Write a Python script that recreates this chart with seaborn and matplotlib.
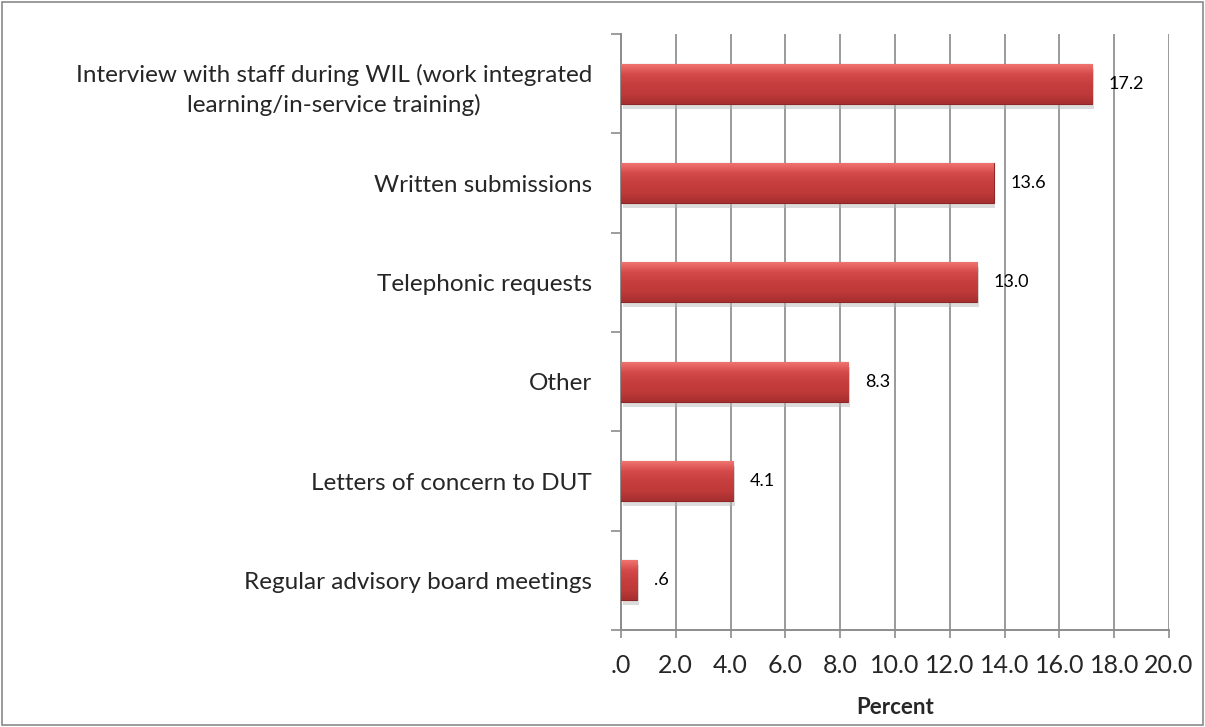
import matplotlib
matplotlib.use("Agg")
import matplotlib.pyplot as plt
from matplotlib.patches import Rectangle
import numpy as np
import pandas as pd
import seaborn as sns

categories = [
    "Interview with staff during WIL (work integrated\nlearning/in-service training)",
    "Written submissions",
    "Telephonic requests",
    "Other",
    "Letters of concern to DUT",
    "Regular advisory board meetings",
]
values = [17.2, 13.6, 13.0, 8.3, 4.1, 0.6]
x_ticks = [0, 2, 4, 6, 8, 10, 12, 14, 16, 18, 20]


def fmt(v):
    s = f"{v:.1f}"
    return s[1:] if s.startswith("0") else s


df = pd.DataFrame({"category": categories, "percent": values})

sns.set_style("white")
plt.rcParams["font.family"] = ["Lato", "DejaVu Sans"]

fig = plt.figure(figsize=(12.05, 7.27), dpi=100)
ax = fig.add_axes([621 / 1205, 1 - 630 / 727, 548 / 1205, 596 / 727])

sns.barplot(data=df, x="percent", y="category", orient="h", width=0.4,
            color="#C43B3A", saturation=1, ax=ax, zorder=3)

# gradient fill to mimic the bevelled bars
grad = np.linspace(0, 1, 64).reshape(-1, 1)
cmap = matplotlib.colors.LinearSegmentedColormap.from_list(
    "bar", ["#F07370", "#D44A4A", "#C63E3D", "#C03A3A", "#A62F2F"])
for p in ax.patches:
    x0, y0 = p.get_x(), p.get_y()
    w, h = p.get_width(), p.get_height()
    # drop shadow
    ax.add_patch(Rectangle((x0 + 0.06, y0 + 0.05), w, h, color="#bbbbbb",
                           alpha=0.5, zorder=2, lw=0))
    im = ax.imshow(grad, cmap=cmap, aspect="auto", zorder=4,
                   extent=(x0, x0 + w, y0 + h, y0))
    im.set_clip_path(p)
    p.set_edgecolor("#8E2626")
    p.set_linewidth(0.8)
    ax.text(x0 + w + 0.6, y0 + h / 2, fmt(w), va="center", ha="left",
            fontsize=13, color="black", zorder=6)

ax.set_xlim(0, 20)
ax.set_ylim(5.5, -0.5)
ax.set_xticks(x_ticks)
ax.set_xticklabels([fmt(v) for v in x_ticks], fontsize=18)
ax.tick_params(axis="x", length=6, width=1.2, color="#8c8c8c", pad=11,
               direction="out", bottom=True)
ax.tick_params(axis="y", which="major", length=0, pad=21, labelsize=17.5)
ax.set_yticks(np.arange(-0.5, 6, 1), minor=True)
ax.tick_params(axis="y", which="minor", length=7, width=1.2,
               color="#8c8c8c", left=True)
for lbl in ax.get_yticklabels():
    lbl.set_multialignment("center")
    lbl.set_linespacing(1.45)

ax.grid(axis="x", color="#9a9a9a", lw=1.4, zorder=0)
ax.grid(axis="y", visible=False)
for s in ["top", "right"]:
    ax.spines[s].set_visible(False)
for s in ["left", "bottom"]:
    ax.spines[s].set_color("#8c8c8c")
    ax.spines[s].set_linewidth(1.4)

ax.set_xlabel("Percent", fontsize=16, fontweight="bold", labelpad=15)
ax.set_ylabel("")

fig.patches.append(Rectangle((0.002, 0.003), 0.996, 0.994,
                             transform=fig.transFigure, fill=False,
                             edgecolor="#8a8a8a", lw=1.2))

fig.savefig("out.png", dpi=100)
